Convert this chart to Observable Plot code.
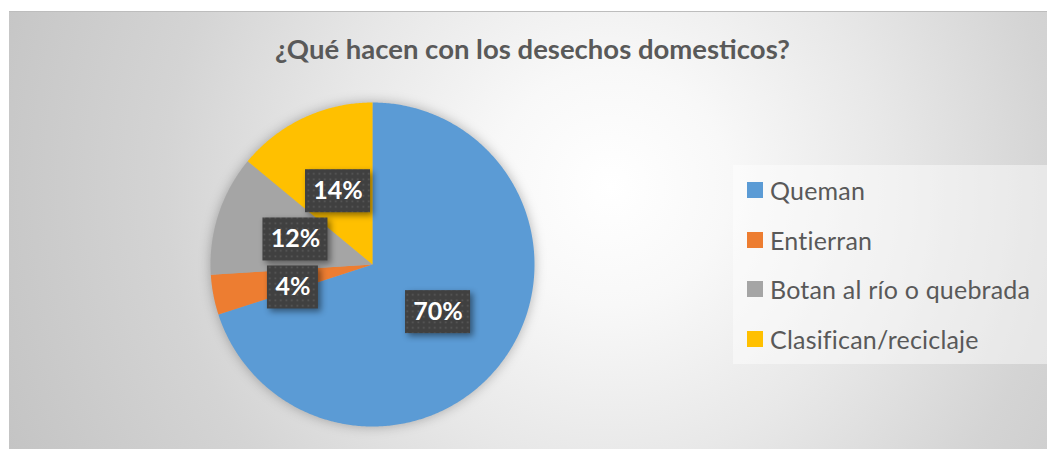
<!DOCTYPE html>
<html><head><meta charset="utf-8">
<script src="https://cdn.jsdelivr.net/npm/d3@7"></script>
<script src="https://cdn.jsdelivr.net/npm/@observablehq/plot@0.6"></script>
<style>
body{margin:0;background:#fff;font-family:Lato,"Open Sans",sans-serif}
#chart{position:absolute;left:9px;top:11px;width:1038px;height:438px;overflow:hidden;
  background:radial-gradient(circle at 58% 40%,#ffffff 0%,#f8f8f8 18%,#e8e8e8 42%,#d4d4d4 68%,#c4c4c4 100%);
  border-top:1px solid #bdbdbd;box-sizing:border-box}
#plot{position:absolute;left:0;top:0}
#title{position:absolute;left:0;width:1047px;top:21px;text-align:center;font-weight:bold;font-size:27.5px;line-height:32px;color:#595959}
#legend{position:absolute;left:724px;top:153px;width:314px;height:199px;background:rgba(255,255,255,.45)}
.item{position:absolute;left:14px;height:30px;display:flex;align-items:center;font-size:25px;color:#595959;white-space:nowrap;letter-spacing:0.2px}
.sw{width:16px;height:16px;margin-right:7px;flex:none}
</style></head><body>
<div id="chart"><div id="plot"></div><div id="title"></div><div id="legend"></div></div>
<script>
const title = "¿Qué hacen con los desechos domesticos?";
const categories = ["Queman", "Entierran", "Botan al río o quebrada", "Clasifican/reciclaje"];
const values = [70, 4, 12, 14];
const labelTexts = ["70%", "4%", "12%", "14%"];
const colors = ["#5B9BD5", "#ED7D31", "#A5A5A5", "#FFC000"];

const R = 162, W = 1038, H = 438, cx = 363, cy = 252;
const total = d3.sum(values);
const slicePts = [];
const labels = [];
let cum = 0;
categories.forEach((cat, i) => {
  const a0 = 2 * Math.PI * cum / total;
  cum += values[i];
  const a1 = 2 * Math.PI * cum / total;
  const n = Math.max(2, Math.ceil((a1 - a0) / 0.01));
  slicePts.push({cat, x: 0, y: 0});
  for (let k = 0; k <= n; k++) {
    const a = a0 + (a1 - a0) * k / n;
    slicePts.push({cat, x: Math.sin(a), y: Math.cos(a)});
  }
  const mid = (a0 + a1) / 2;
  const t = labelTexts[i];
  labels.push({text: t, x: 0.5 * Math.sin(mid), y: 0.5 * Math.cos(mid),
    hw: (23 + 14 * t.length) / 2 / R, hh: 43 / 2 / R});
});
// simple overlap resolution: push lower label down
const gap = 5 / R;
for (let iter = 0; iter < 5; iter++) {
  for (let i = 0; i < labels.length; i++) for (let j = 0; j < labels.length; j++) {
    if (i === j) continue;
    const a = labels[i], b = labels[j];
    if (a.y < b.y) continue;
    const needY = a.hh + b.hh + gap;
    if (Math.abs(a.x - b.x) < a.hw + b.hw && a.y - b.y < needY) b.y = a.y - needY;
  }
}

const plot = Plot.plot({
  width: W, height: H,
  marginLeft: cx - R, marginRight: W - cx - R, marginTop: cy - R, marginBottom: H - cy - R,
  x: {domain: [-1, 1], axis: null},
  y: {domain: [-1, 1], axis: null},
  color: {domain: categories, range: colors},
  style: {background: "transparent", overflow: "visible", fontFamily: "Lato, 'Open Sans', sans-serif"},
  marks: [
    Plot.line(slicePts, {x: "x", y: "y", z: "cat", fill: "cat", stroke: "none", curve: "linear"}),
    Plot.rect(labels, {x1: d => d.x - d.hw, x2: d => d.x + d.hw, y1: d => d.y - d.hh, y2: d => d.y + d.hh, fill: "url(#dots)"}),
    Plot.text(labels, {x: "x", y: "y", text: "text", fill: "white", fontSize: 25, fontWeight: "bold"})
  ]
});
const svg = d3.select(plot);
const pat = svg.insert("defs", ":first-child").append("pattern")
  .attr("id", "dots").attr("patternUnits", "userSpaceOnUse").attr("width", 5.5).attr("height", 5.5);
pat.append("rect").attr("width", 5.5).attr("height", 5.5).attr("fill", "#404040");
pat.append("rect").attr("x", 1.5).attr("y", 1.5).attr("width", 1.6).attr("height", 1.6).attr("fill", "#5c5c5c");
svg.selectAll('g[aria-label="line"]').style("filter", "drop-shadow(0 0 6px rgba(0,0,0,0.28))");
svg.selectAll('g[aria-label="rect"]').style("filter", "drop-shadow(3px 3px 3px rgba(0,0,0,0.45))");
document.getElementById("plot").appendChild(plot);

document.getElementById("title").textContent = title;
const legend = d3.select("#legend");
categories.forEach((c, i) => {
  const it = legend.append("div").attr("class", "item").style("top", (25 + i * 49.7 - 15) + "px");
  it.append("div").attr("class", "sw").style("background", colors[i]);
  it.append("span").text(c);
});
</script>
</body></html>
